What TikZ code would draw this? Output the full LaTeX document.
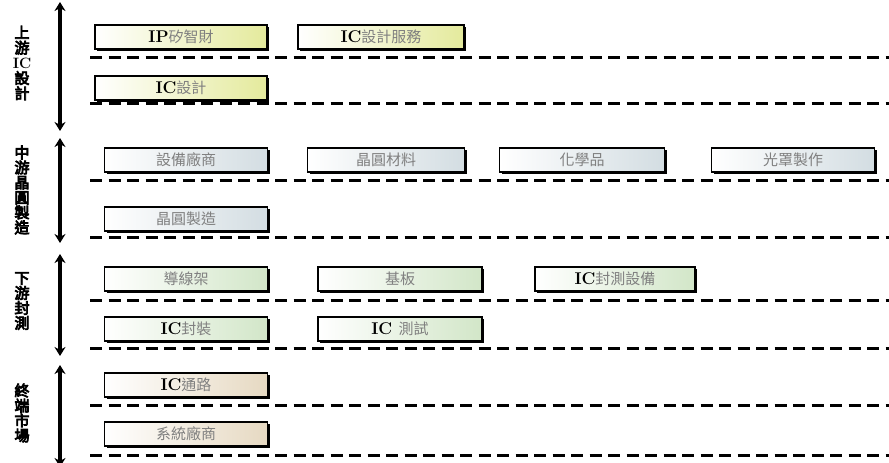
\documentclass[tikz,border=0pt]{standalone}
\usepackage{fontspec}
\newfontfamily\cjk{Noto Sans CJK TC}
\newfontfamily\cjkb{Noto Sans CJK TC}[FakeBold=5]
\usetikzlibrary{shadows,arrows.meta}
\definecolor{cA}{HTML}{E4EA9C}
\definecolor{cB}{HTML}{D3DDE2}
\definecolor{cC}{HTML}{D2E6C8}
\definecolor{cD}{HTML}{E6D9C2}
\begin{document}
\begin{tikzpicture}[x=1pt,y=-1pt,
  bx/.style={draw=black, line width=1.4pt, inner sep=0pt, minimum height=24pt,
    drop shadow={shadow xshift=2pt, shadow yshift=-2pt, opacity=1, fill=black},
    font=\fontsize{17}{18}\selectfont\bfseries, text=black},
  sA/.style={bx, left color=white, right color=cA},
  sB/.style={bx, left color=white, right color=cB},
  sC/.style={bx, left color=white, right color=cC},
  sD/.style={bx, left color=white, right color=cD},
  sep/.style={line width=3pt, dash pattern=on 12pt off 6.5pt},
  lab/.style={font=\fontsize{15}{#1}\selectfont\cjkb, inner sep=0pt, align=center},
  arr/.style={line width=4pt, {Stealth[length=9pt,width=11pt]}-{Stealth[length=9pt,width=11pt]}}
]
\useasboundingbox (0,0) rectangle (889,463);
\newcommand{\zh}[1]{{\mdseries\cjk\fontsize{15}{16}\selectfont\color{black!50}#1}}
% --- section 1
\node[lab=15.2] (l1) at (22,63) {上\\游\\{\rmfamily\bfseries\fontsize{15}{15.2}\selectfont IC}\\設\\計};
\coordinate (a1t) at (60,2); \coordinate (a1b) at (60,131);
\draw[arr] (a1t) -- (a1b);
\node[sA, minimum width=172] (ip) at (181,37) {IP\zh{矽智財}};
\node[sA, minimum width=166] (ics) at (381,37) {IC\zh{設計服務}};
\node[sA, minimum width=172] (icd) at (181,88) {IC\zh{設計}};
\coordinate (d1a) at (90,57); \coordinate (d1b) at (889,57);
\draw[sep] (d1a) -- (d1b);
\coordinate (d2a) at (90,103); \coordinate (d2b) at (889,103);
\draw[sep] (d2a) -- (d2b);
% --- section 2
\node[lab=15] (l2) at (22,190) {中\\游\\晶\\圓\\製\\造};
\coordinate (a2t) at (60,138); \coordinate (a2b) at (60,243);
\draw[arr] (a2t) -- (a2b);
\node[sB, minimum width=163] (eq) at (186,160) {\zh{設備廠商}};
\node[sB, minimum width=157] (wm) at (386,160) {\zh{晶圓材料}};
\node[sB, minimum width=165] (ch) at (582,160) {\zh{化學品}};
\node[sB, minimum width=163] (pm) at (793,160) {\zh{光罩製作}};
\node[sB, minimum width=163] (wf) at (186,219) {\zh{晶圓製造}};
\coordinate (d3a) at (90,180); \coordinate (d3b) at (889,180);
\draw[sep] (d3a) -- (d3b);
\coordinate (d4a) at (90,237); \coordinate (d4b) at (889,237);
\draw[sep] (d4a) -- (d4b);
% --- section 3
\node[lab=15] (l3) at (22,301) {下\\游\\封\\測};
\coordinate (a3t) at (60,254); \coordinate (a3b) at (60,356);
\draw[arr] (a3t) -- (a3b);
\node[sC, minimum width=163] (lf) at (186,279) {\zh{導線架}};
\node[sC, minimum width=164] (sb) at (400,279) {\zh{基板}};
\node[sC, minimum width=160] (te) at (615,279) {IC\zh{封測設備}};
\node[sC, minimum width=163] (pk) at (186,329) {IC\zh{封裝}};
\node[sC, minimum width=164] (ts) at (400,329) {IC\ \zh{測試}};
\coordinate (d5a) at (90,300); \coordinate (d5b) at (889,300);
\draw[sep] (d5a) -- (d5b);
\coordinate (d6a) at (90,348); \coordinate (d6b) at (889,348);
\draw[sep] (d6a) -- (d6b);
% --- section 4
\node[lab=15] (l4) at (22,413) {終\\端\\市\\場};
\coordinate (a4t) at (60,365); \coordinate (a4b) at (60,467);
\draw[arr] (a4t) -- (a4b);
\node[sD, minimum width=163] (ch2) at (186,385) {IC\zh{通路}};
\node[sD, minimum width=163] (sy) at (186,434) {\zh{系統廠商}};
\coordinate (d7a) at (90,405); \coordinate (d7b) at (889,405);
\draw[sep] (d7a) -- (d7b);
\coordinate (d8a) at (90,455); \coordinate (d8b) at (889,455);
\draw[sep] (d8a) -- (d8b);
\end{tikzpicture}
\end{document}
